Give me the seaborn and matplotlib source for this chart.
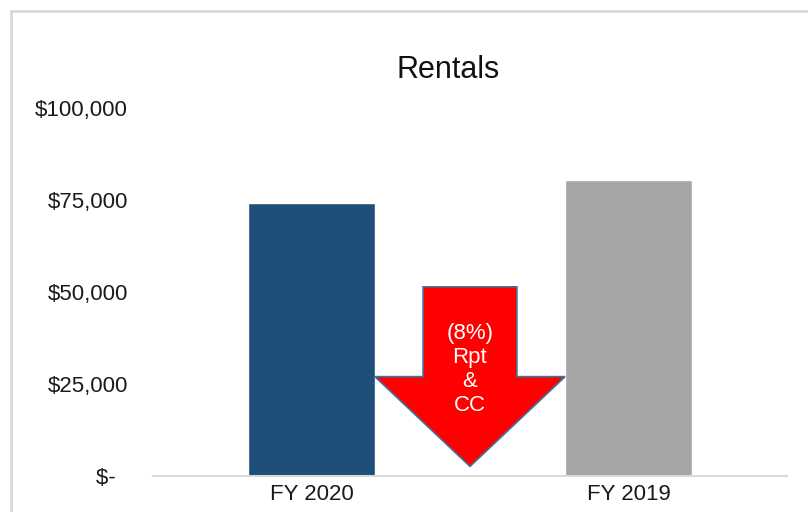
import numpy as np
import pandas as pd
import seaborn as sb
from matplotlib import pyplot as plt
from matplotlib.patches import Polygon, Rectangle


YEARS = ['FY 2020', 'FY 2019']
RENTALS = [74200, 80400]
BAR_COLORS = ['#1F4E79', '#A6A6A6']
Y_TICKS = [0, 25000, 50000, 75000, 100000]
Y_LABELS = ['$-  ', '$25,000', '$50,000', '$75,000', '$100,000']
ARROW_NOTE = ['Rpt', '&', 'CC']


def main():
    sb.set_theme(style='white')
    plt.rcParams['font.family'] = ['Liberation Sans', 'DejaVu Sans']

    df = pd.DataFrame({'year': YEARS, 'rentals': RENTALS})
    fig = plt.figure(figsize=(8.08, 5.12), dpi=100)
    ax = fig.add_axes([153 / 808, 1 - 476 / 512, 634 / 808, 368 / 512])

    sb.barplot(data=df, x='year', y='rentals', hue='year', palette=BAR_COLORS,
               width=0.4, legend=False, ax=ax, saturation=1)

    ax.set_ylim(0, 100000)
    ax.set_xlim(-0.5, 1.5)
    ax.set_yticks(Y_TICKS)
    ax.set_yticklabels(Y_LABELS, fontsize=16, color='#1a1a1a')
    ax.tick_params(axis='y', length=0, pad=18)
    ax.tick_params(axis='x', length=0, pad=6, labelsize=16, labelcolor='#1a1a1a')
    ax.set_xlabel('')
    ax.set_ylabel('')
    for side in ['top', 'right', 'left']:
        ax.spines[side].set_visible(False)
    ax.spines['bottom'].set_color('#D9D9D9')
    ax.spines['bottom'].set_linewidth(1.5)

    fig.text(448 / 808, 1 - 70 / 512, 'Rentals', ha='center', va='center',
             fontsize=22, color='#111111')

    # down arrow between the bars
    change = (RENTALS[0] - RENTALS[1]) / RENTALS[1]
    cx = 0.5
    shaft, head = 0.148, 0.3
    top, neck, tip = 51400, 27000, 2600
    arrow = Polygon([(cx - shaft, top), (cx + shaft, top), (cx + shaft, neck),
                     (cx + head, neck), (cx, tip), (cx - head, neck),
                     (cx - shaft, neck)], closed=True,
                    facecolor='#FF0000', edgecolor='#41719C', linewidth=1.2, zorder=3)
    ax.add_patch(arrow)
    note = f'({abs(change) * 100:.0f}%)\n' + '\n'.join(ARROW_NOTE)
    ax.text(cx, 29000, note, ha='center', va='center', color='white',
            fontsize=16, linespacing=1.18, zorder=4)

    # outer chart border
    fig.patches.append(Rectangle((11 / 808, -0.1), 1.2, 1 - 11 / 512 + 0.1,
                                 transform=fig.transFigure, fill=False,
                                 edgecolor='#D9D9D9', linewidth=2))

    fig.savefig('out.png', dpi=100)
    plt.close()


if __name__ == '__main__':
    main()
